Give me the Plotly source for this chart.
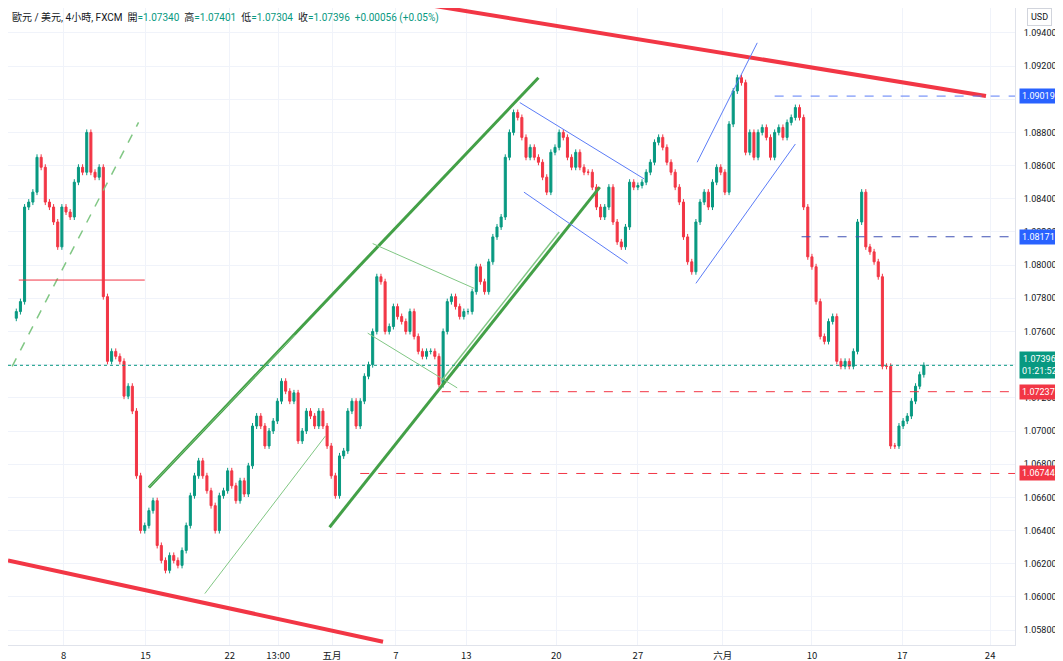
import plotly.graph_objects as go

# closes of each candle (EUR/USD)
closes = [
  1.0772, 1.0778, 1.0835, 1.0838, 1.0844, 1.0865, 1.0859, 1.0838, 1.0835, 1.0826,
  1.0811, 1.0835, 1.0832, 1.0829, 1.0850, 1.0859, 1.0856, 1.0880, 1.0856, 1.0853,
  1.0859, 1.0781, 1.0742, 1.0748, 1.0745, 1.0742, 1.0721, 1.0727, 1.0712, 1.0673,
  1.0640, 1.0643, 1.0652, 1.0658, 1.0631, 1.0622, 1.0616, 1.0625, 1.0622, 1.0619,
  1.0628, 1.0643, 1.0661, 1.0673, 1.0682, 1.0673, 1.0664, 1.0655, 1.0640, 1.0661,
  1.0664, 1.0676, 1.0667, 1.0658, 1.0670, 1.0662, 1.0679, 1.0703, 1.0709, 1.0703,
  1.0691, 1.0700, 1.0706, 1.0718, 1.0730, 1.0724, 1.0718, 1.0723, 1.0694, 1.0700,
  1.0712, 1.0709, 1.0703, 1.0712, 1.0703, 1.0691, 1.0673, 1.0661, 1.0685, 1.0688,
  1.0712, 1.0718, 1.0703, 1.0718, 1.0733, 1.0740, 1.0760, 1.0793, 1.0790, 1.0760,
  1.0763, 1.0775, 1.0769, 1.0766, 1.0760, 1.0772, 1.0757, 1.0748, 1.0745, 1.0748,
  1.0748, 1.0745, 1.0728, 1.0760, 1.0778, 1.0781, 1.0775, 1.0769, 1.0772, 1.0772,
  1.0784, 1.0799, 1.0790, 1.0784, 1.0802, 1.0817, 1.0823, 1.0829, 1.0865, 1.0880,
  1.0892, 1.0889, 1.0877, 1.0865, 1.0871, 1.0865, 1.0862, 1.0853, 1.0844, 1.0868,
  1.0871, 1.0880, 1.0877, 1.0865, 1.0859, 1.0868, 1.0859, 1.0856, 1.0856, 1.0847,
  1.0835, 1.0829, 1.0835, 1.0847, 1.0826, 1.0814, 1.0811, 1.0823, 1.0850, 1.0847,
  1.0848, 1.0850, 1.0856, 1.0862, 1.0874, 1.0877, 1.0871, 1.0862, 1.0856, 1.0847,
  1.0838, 1.0817, 1.0802, 1.0796, 1.0826, 1.0838, 1.0844, 1.0835, 1.0850, 1.0859,
  1.0856, 1.0844, 1.0885, 1.0905, 1.0913, 1.0910, 1.0868, 1.0880, 1.0865, 1.0880,
  1.0883, 1.0877, 1.0865, 1.0880, 1.0883, 1.0877, 1.0886, 1.0889, 1.0895, 1.0889,
  1.0835, 1.0805, 1.0799, 1.0778, 1.0757, 1.0754, 1.0766, 1.0769, 1.0742, 1.0739,
  1.0742, 1.0739, 1.0748, 1.0826, 1.0844, 1.0811, 1.0808, 1.0802, 1.0793, 1.0739,
  1.0739, 1.0691, 1.0691, 1.0703, 1.0706, 1.0709, 1.0718, 1.0727, 1.0734, 1.07396,
]
first_open = 1.0768

tick_idx = [11.4, 31.2, 51.5, 63.2, 76.2, 91.6, 108.6, 130.3, 150, 170.5, 192, 213.8, 235]
tick_text = ['8', '15', '22', '13:00', '五月', '7', '13', '20', '27', '六月', '10', '17', '24']

y_ticks = [1.058 + 0.002 * k for k in range(19)]

# price levels marked on the right
levels = [1.09019, 1.08171, 1.07396, 1.07237, 1.06744]

UP = '#089981'
DOWN = '#F23645'

opens = [first_open] + closes[:-1]
highs = [max(o, c) + 0.00018 for o, c in zip(opens, closes)]
lows = [min(o, c) - 0.00018 for o, c in zip(opens, closes)]
idx = list(range(len(closes)))

fig = go.Figure()
fig.add_trace(go.Candlestick(
  x=idx, open=opens, high=highs, low=lows, close=closes,
  increasing=dict(line=dict(color=UP, width=1), fillcolor=UP),
  decreasing=dict(line=dict(color=DOWN, width=1), fillcolor=DOWN),
  whiskerwidth=0, hoverinfo='none', showlegend=False,
))

def seg(x0, y0, x1, y1, color, width, dash='solid'):
  fig.add_shape(type='line', x0=x0, y0=y0, x1=x1, y1=y1, xref='x', yref='y',
                line=dict(color=color, width=width, dash=dash))

RED = '#F23645'
GREEN = '#43A047'
LGREEN = '#81C784'
BLUE = '#5B7CF7'

# trend drawings
seg(99, 1.0957, 234, 1.0902, RED, 4)
seg(-2, 1.0622, 88.5, 1.0573, RED, 4)
seg(32, 1.0666, 126, 1.0913, GREEN, 3)
seg(75.6, 1.0642, 140.8, 1.0847, GREEN, 3)
seg(102.5, 1.0730, 131, 1.0820, LGREEN, 1.5)
seg(45.5, 1.0602, 74.6, 1.0697, LGREEN, 1)
seg(32, 1.0666, 67.2, 1.0758, LGREEN, 1)
seg(86, 1.0813, 110.5, 1.0786, LGREEN, 1)
seg(84.8, 1.0759, 106.4, 1.0726, LGREEN, 1)
seg(-1, 1.0739, 29.5, 1.0886, LGREEN, 1.5, 'dash')
seg(0.6, 1.0791, 31, 1.0791, RED, 1)
seg(121.5, 1.0898, 151.5, 1.0852, BLUE, 1)
seg(122.5, 1.0844, 147.5, 1.0801, BLUE, 1)
seg(164.3, 1.0862, 178.8, 1.0934, BLUE, 1)
seg(164, 1.0789, 188, 1.0873, BLUE, 1)
seg(183, levels[0], 241, levels[0], BLUE, 1, 'dash')
seg(189.5, levels[1], 241, levels[1], '#3F51B5', 1, 'dash')
seg(102.7, levels[3], 241, levels[3], RED, 1, 'dash')
seg(83, levels[4], 241, levels[4], RED, 1, 'dash')
seg(-2, levels[2], 241, levels[2], UP, 1, 'dot')

ann = []
label_bg = ['#2962FF', '#2962FF', UP, RED, RED]
for lv, bg in zip(levels, label_bg):
  txt = f'{lv:.5f}'
  if lv == levels[2]:
    txt += '<br>01:21:52'
  ann.append(dict(x=1.004, y=lv, xref='paper', yref='y', xanchor='left', yanchor='middle',
                  text=txt, showarrow=False, bgcolor=bg, font=dict(color='white', size=9),
                  borderpad=2, align='center'))

ann.append(dict(x=0.002, y=0.998, xref='paper', yref='paper', xanchor='left', yanchor='top',
                showarrow=False, font=dict(size=10, color='#131722'),
                text='歐元 / 美元, 4小時, FXCM  開<span style="color:#089981">=1.07340</span>  '
                     '高<span style="color:#089981">=1.07401</span>  低<span style="color:#089981">=1.07304</span>  '
                     '收<span style="color:#089981">=1.07396  +0.00056 (+0.05%)</span>'))
ann.append(dict(x=1.012, y=1.0, xref='paper', yref='paper', xanchor='left', yanchor='top',
                showarrow=False, text='USD', font=dict(size=9, color='#131722'),
                bordercolor='#D1D4DC', borderwidth=1, borderpad=3))

fig.update_layout(
  width=1063, height=661,
  margin=dict(l=0, r=56, t=0, b=24, autoexpand=False),
  plot_bgcolor='white', paper_bgcolor='white',
  font=dict(family='Roboto, Noto Sans CJK TC, sans-serif', size=9, color='#131722'),
  annotations=ann,
  xaxis=dict(range=[-2, 241], tickvals=tick_idx, ticktext=tick_text, showgrid=True,
             gridcolor='#F0F3FA', rangeslider=dict(visible=False), zeroline=False,
             showline=True, linecolor='#E0E3EB', ticks='', ticklabelstandoff=2,
             tickfont=dict(family='Noto Sans CJK TC, Roboto, sans-serif', size=9.5)),
  yaxis=dict(side='right', range=[1.0571, 1.0955], tickvals=y_ticks,
             ticktext=[f'{v:.5f}' for v in y_ticks], showgrid=True, gridcolor='#F0F3FA',
             zeroline=False, showline=True, linecolor='#E0E3EB', ticks='', ticklabelstandoff=6),
)

fig.write_html('out.html')
